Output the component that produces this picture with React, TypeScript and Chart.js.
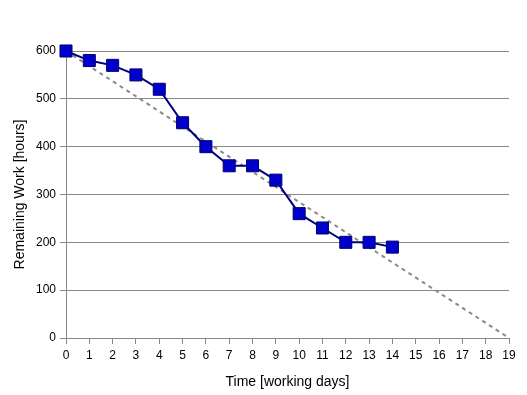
import React, { useEffect, useRef } from "react";
import { Chart, registerables } from "chart.js";

Chart.register(...registerables);

const days = [0, 1, 2, 3, 4, 5, 6, 7, 8, 9, 10, 11, 12, 13, 14];
const remaining = [600, 580, 570, 550, 520, 450, 400, 360, 360, 330, 260, 230, 200, 200, 190];
const idealDays = [0, 19];
const idealWork = [600, 0];

export default function App() {
  const ref = useRef<HTMLCanvasElement>(null);
  useEffect(() => {
    document.body.style.margin = "0";
    const font = { family: "'Liberation Sans', Arial, sans-serif", size: 12 };
    const chart = new Chart(ref.current!, {
      type: "line",
      data: {
        datasets: [
          {
            label: "Ideal",
            data: idealDays.map((d, i) => ({ x: d, y: idealWork[i] })),
            borderColor: "#8a8a8a",
            borderWidth: 2,
            borderDash: [4, 4],
            pointRadius: 0,
            fill: false,
            clip: false as any,
            order: 2,
          },
          {
            label: "Remaining",
            data: days.map((d, i) => ({ x: d, y: remaining[i] })),
            borderColor: "#000080",
            borderWidth: 2,
            pointStyle: "rect",
            pointRadius: 8.5,
            pointBackgroundColor: "#0000cc",
            pointBorderColor: "#00006a",
            pointBorderWidth: 1,
            fill: false,
            clip: false as any,
            order: 1,
          },
        ],
      },
      options: {
        animation: false,
        responsive: false,
        layout: { padding: { left: 8, top: 51, right: 18, bottom: 4 } },
        plugins: { legend: { display: false }, tooltip: { enabled: false } },
        scales: {
          x: {
            type: "linear",
            min: 0,
            max: 19,
            ticks: { stepSize: 1, color: "#000", font, padding: 4, maxRotation: 0 },
            grid: { drawOnChartArea: false, tickLength: 6, color: "#888" },
            border: { color: "#888" },
            title: { display: true, text: "Time [working days]", color: "#000", font: { ...font, size: 14 }, padding: { top: 4, bottom: 0 } },
            afterFit: (s: any) => { s.height = 53; },
          },
          y: {
            min: 0,
            max: 600,
            ticks: { stepSize: 100, color: "#000", font, padding: 4 },
            grid: { tickLength: 6, color: "#888" },
            border: { color: "#888" },
            title: { display: true, text: "Remaining Work [hours]", color: "#000", font: { ...font, size: 14 } },
            afterFit: (s: any) => { s.width = 58; },
          },
        },
      },
    });
    return () => chart.destroy();
  }, []);
  return <canvas ref={ref} width={527} height={395} style={{ display: "block" }} />;
}
